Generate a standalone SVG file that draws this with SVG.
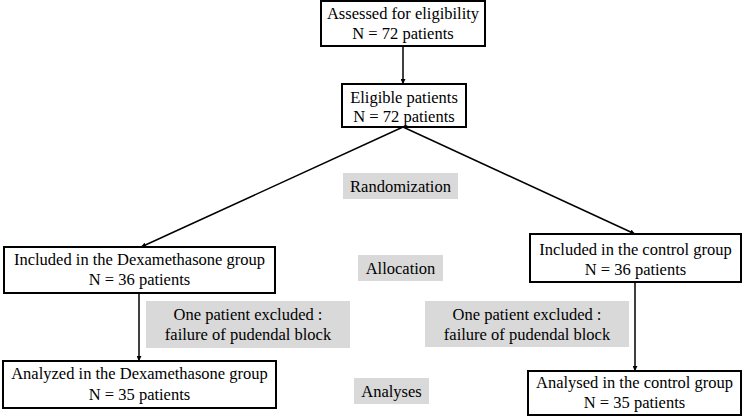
<svg xmlns="http://www.w3.org/2000/svg" width="744" height="417" viewBox="0 0 744 417" font-family="'Liberation Serif', 'Times New Roman', 'DejaVu Serif', serif">
<defs>
<marker id="ah" viewBox="0 0 10 10" refX="10" refY="5" markerWidth="5" markerHeight="5" orient="auto" markerUnits="userSpaceOnUse">
<path d="M0,0 L10,5 L0,10 z" fill="#000"/>
</marker>
</defs>
<style>
text{font-family:'Liberation Serif','Times New Roman','DejaVu Serif',serif;font-size:16.5px;fill:#000;text-anchor:middle}
.box{fill:#fff;stroke:#000;stroke-width:2}
.lbl{fill:#d9d9d9;stroke:none}
.conn{stroke:#000;stroke-width:1.5;fill:none;marker-end:url(#ah)}
</style>
<rect width="744" height="417" fill="#fff"/>
<g id="connectors">
<line class="conn" x1="403" y1="46" x2="403" y2="84"/>
<line class="conn" x1="403" y1="127" x2="141" y2="247"/>
<line class="conn" x1="403" y1="127" x2="635" y2="234"/>
<line class="conn" x1="139" y1="293" x2="139" y2="361"/>
<line class="conn" x1="635" y1="282" x2="635" y2="371"/>
</g>
<g id="assessed">
<rect class="box" x="321" y="1" width="164" height="45"/>
<text x="403" y="19">Assessed for eligibility</text>
<text x="403" y="39">N = 72 patients</text>
</g>
<g id="eligible">
<rect class="box" x="342" y="84" width="124" height="43"/>
<text x="404" y="103">Eligible patients</text>
<text x="404" y="122">N = 72 patients</text>
</g>
<g id="randomization">
<rect class="lbl" x="343" y="173" width="115" height="26"/>
<text x="400.5" y="192">Randomization</text>
</g>
<g id="included-dexa">
<rect class="box" x="4" y="247" width="271" height="46"/>
<text x="139.5" y="265">Included in the Dexamethasone group</text>
<text x="139.5" y="285">N = 36 patients</text>
</g>
<g id="allocation">
<rect class="lbl" x="358" y="255" width="85" height="26"/>
<text x="400.5" y="274">Allocation</text>
</g>
<g id="included-control">
<rect class="box" x="530" y="234" width="211" height="48"/>
<text x="635.5" y="255">Included in the control group</text>
<text x="635.5" y="275">N = 36 patients</text>
</g>
<g id="excluded-dexa">
<rect class="lbl" x="146" y="301" width="204" height="47"/>
<text x="248" y="320">One patient excluded :</text>
<text x="248" y="340">failure of pudendal block</text>
</g>
<g id="excluded-control">
<rect class="lbl" x="425" y="301" width="204" height="46"/>
<text x="527" y="320">One patient excluded :</text>
<text x="527" y="340">failure of pudendal block</text>
</g>
<g id="analyzed-dexa">
<rect class="box" x="3" y="361" width="273" height="47"/>
<text x="139.5" y="379">Analyzed in the Dexamethasone group</text>
<text x="139.5" y="400">N = 35 patients</text>
</g>
<g id="analyses">
<rect class="lbl" x="354" y="378" width="75" height="26"/>
<text x="391.5" y="397">Analyses</text>
</g>
<g id="analysed-control">
<rect class="box" x="528" y="371" width="213" height="44"/>
<text x="634.5" y="388">Analysed in the control group</text>
<text x="634.5" y="408">N = 35 patients</text>
</g>
</svg>
